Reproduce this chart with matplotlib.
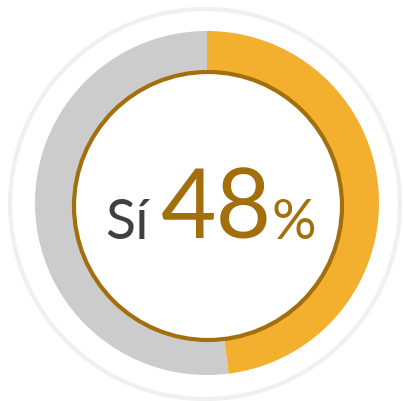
import matplotlib
matplotlib.use("Agg")
import matplotlib.pyplot as plt
from matplotlib.patches import Circle

labels = ["Sí", "No"]
values = [48, 52]
colors = ["#f3b02e", "#cccccc"]
label_text = "Sí"
pct_text = "48"

W, H = 403, 402
fig = plt.figure(figsize=(W / 100, H / 100), dpi=100)
ax = fig.add_axes([0, 0, 1, 1])
ax.set_xlim(0, W)
ax.set_ylim(0, H)
ax.set_aspect("equal")
ax.axis("off")

def py(y):
    return H - y

# outer faint ring
ax.add_patch(Circle((205, py(205)), 195, fill=False, edgecolor="#f0f0f0", linewidth=3.0))

# donut
ax.pie(values, colors=colors, startangle=90, counterclock=False,
       center=(207, py(204)), radius=172, frame=True,
       wedgeprops=dict(width=80, linewidth=0))
ax.set_xlim(0, W)
ax.set_ylim(0, H)
ax.axis("off")

# inner white circle with brown border
ax.add_patch(Circle((208, py(207)), 134, facecolor="white", edgecolor="#a26f0c", linewidth=3.0, zorder=5))

font = "Lato"
ax.text(105, py(239), label_text, fontsize=40, color="#404040", family=font,
        ha="left", va="baseline", zorder=6)
ax.text(161, py(239), pct_text, fontsize=69, color="#a26f0c", family=font,
        ha="left", va="baseline", zorder=6)
ax.text(271, py(239), "%", fontsize=40, color="#a26f0c", family=font,
        ha="left", va="baseline", zorder=6)

fig.savefig("out.png", dpi=100, facecolor="white")
